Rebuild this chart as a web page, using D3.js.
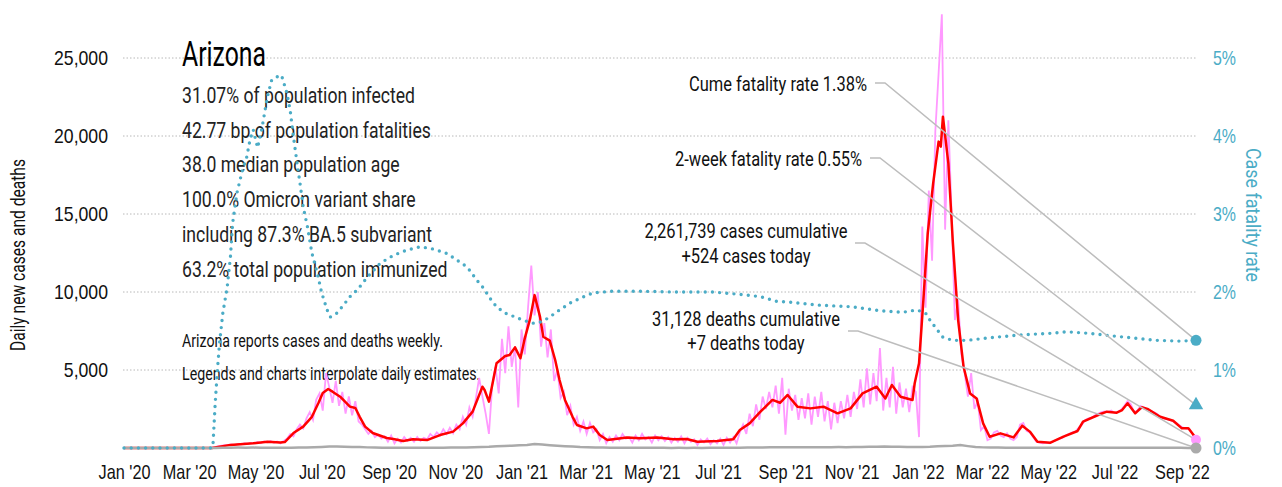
<!DOCTYPE html>
<html>
<head>
<meta charset="utf-8">
<script src="https://cdn.jsdelivr.net/npm/d3@7"></script>
<style>
  body { margin: 0; background: #fff; }
  svg { font-family: Roboto, "Liberation Sans", sans-serif; }
</style>
</head>
<body>
<svg id="chart" width="1282" height="487"></svg>
<script>
// ---- data ----
// day offsets are counted from 2020-01-01
const lastDay = 987;

// 7-day average of new cases (red)
const avgDay = [0, 81, 98, 119, 132, 144, 148, 156, 165, 173, 179, 183, 188, 192, 199, 208, 213, 217, 222, 229,
  242, 248, 257, 266, 279, 291, 303, 312, 321, 330, 332, 336, 343, 351, 355, 360, 365, 369, 374, 378,
  383, 386, 392, 397, 401, 406, 413, 417, 426, 432, 438, 445, 463, 475, 491, 506, 518, 528, 546, 561,
  567, 576, 586, 597, 604, 611, 620, 632, 644, 657, 669, 680, 693, 701, 707, 715, 726, 728, 732, 736,
  740, 745, 750, 752, 754, 759, 763, 768, 773, 779, 785, 791, 797, 807, 819, 827, 834, 841, 853, 865,
  878, 883, 899, 905, 914, 919, 924, 931, 937, 943, 954, 966, 974, 980, 987];
const avgCases = [0, 0, 200, 300, 400, 350, 380, 960, 1370, 2000, 2880, 3525, 3780, 3610, 3290, 2650, 2560, 2000, 1370, 960,
  640, 580, 450, 560, 510, 830, 1050, 1580, 2330, 3930, 3720, 2970, 5430, 5900, 5960, 6450, 5750, 7030, 8310, 9800,
  8420, 7130, 6880, 5640, 4360, 3080, 2000, 1475, 1260, 1370, 833, 510, 680, 620, 680, 560, 580, 400, 450, 560,
  1150, 1580, 2330, 3080, 2900, 3400, 2650, 2540, 2650, 2220, 2540, 3500, 3930, 3180, 4040, 3290, 3080, 4150, 5430, 9490,
  13760, 16970, 19640, 19320, 21240, 18250, 13330, 8200, 5210, 3500, 3180, 1580, 725, 940, 680, 1430, 1050, 400, 340, 725,
  1090, 1690, 2180, 2330, 2265, 2435, 2865, 2220, 2610, 2480, 2000, 1750, 1260, 1260, 620];

// daily new cases (pink), one value every 3 days from day 78
const rawStart = 78, rawStep = 3;
const rawCases = [
  0, 30, 60, 120, 150, 180, 200, 230, 190, 260, 240, 310, 260, 330, 300, 380, 320, 420, 360, 450,
  330, 420, 300, 450, 600, 900, 750, 1200, 1500, 1250, 1900, 2300, 1800, 3100, 3500, 2400, 4800, 3900, 2900, 4300,
  2700, 3600, 2200, 3300, 2100, 3000, 1700, 1500, 1200, 900, 1100, 700, 850, 600, 750, 400, 800, 300, 600, 350,
  700, 450, 650, 400, 700, 450, 650, 550, 900, 700, 1000, 800, 1200, 900, 1300, 950, 1500, 1200, 2000, 1500,
  2600, 2000, 3200, 4500, 3300, 2200, 900, 4000, 5200, 3500, 7000, 4800, 7800, 5200, 6500, 2600, 7600, 6000, 9000, 11700,
  8500, 10000, 6500, 8000, 5800, 7600, 4300, 5000, 3200, 3600, 2100, 2700, 1500, 2000, 1100, 1700, 900, 1600, 1000, 1200,
  500, 900, 300, 700, 400, 800, 500, 900, 600, 700, 350, 800, 500, 900, 550, 700, 350, 800, 500, 750,
  450, 700, 350, 650, 400, 750, 300, 650, 400, 550, 200, 550, 350, 600, 250, 500, 300, 600, 200, 650,
  350, 700, 300, 1000, 1500, 900, 2200, 1400, 2800, 1800, 3300, 2500, 3600, 2600, 4000, 2200, 4500, 850, 3800, 2400,
  3400, 1800, 3200, 1900, 3500, 1500, 3300, 2000, 3600, 1700, 3000, 1200, 2900, 1600, 3000, 1900, 3400, 2000, 3600, 2500,
  4400, 2600, 5100, 2800, 4800, 3000, 6400, 2400, 4500, 2600, 5200, 2200, 4200, 2600, 3800, 2300, 3900, 3600, 700, 14200,
  9000, 16500, 12000, 20300, 24000, 27800, 14000, 21000, 15000, 8200, 9500, 6000, 4800, 3300, 4800, 2500, 3000, 1150, 1400, 500,
  600, 1000, 1100, 800, 700, 950, 600, 500, 700, 1500, 1600, 1100, 1000, 700, 400, 350, 300, 350, 300, 400,
  500, 600, 650, 800, 900, 1000, 1050, 1300, 1500, 1800, 1900, 1950, 2100, 2200, 2300, 2350, 2300, 2400, 2250, 2300,
  2450, 2700, 3000, 2800, 2300, 2400, 2700, 2600, 2500, 2400, 2300, 2200, 2000, 1900, 1850, 1800, 1700, 1600, 1450, 1300,
  1250, 1200, 900, 524];

// daily deaths (gray), one value every 7 days from day 0
const deathStep = 7;
const deaths = [0, 0, 0, 0, 0, 0, 0, 0, 0, 0, 0, 0, 5, 15, 20, 25, 20, 25, 20, 20,
  15, 20, 20, 30, 40, 50, 70, 90, 100, 80, 70, 60, 40, 30, 20, 15, 10, 15, 10, 15,
  10, 20, 20, 30, 30, 40, 50, 70, 80, 110, 130, 150, 170, 200, 250, 220, 180, 150, 120, 90,
  60, 45, 40, 30, 20, 20, 15, 15, 10, 12, 10, 10, 8, 10, 8, 10, 8, 10, 10, 12,
  15, 20, 25, 30, 35, 45, 50, 55, 50, 55, 45, 50, 45, 55, 60, 55, 65, 70, 80, 85,
  90, 75, 80, 70, 60, 70, 80, 110, 130, 150, 190, 120, 60, 40, 30, 25, 20, 15, 12, 10,
  10, 12, 10, 10, 12, 10, 10, 12, 10, 10, 12, 10, 10, 12, 10, 10, 12, 10, 10, 10, 8, 7];

// case fatality rate, % (teal, right axis)
const cfrDay = [0, 81, 82, 84, 86, 88, 91, 95, 98, 100, 104, 109, 113, 116, 119, 123, 127, 132, 136, 141,
  145, 150, 153, 156, 159, 162, 165, 169, 173, 178, 182, 187, 190, 196, 202, 208, 215, 224, 236, 248,
  261, 273, 285, 298, 316, 325, 331, 337, 343, 351, 360, 367, 377, 385, 392, 401, 411, 420, 432, 450,
  475, 506, 542, 567, 586, 601, 613, 641, 671, 696, 717, 730, 738, 742, 749, 754, 763, 776, 795, 825,
  853, 868, 889, 908, 929, 951, 972, 987];
const cfrPct = [0, 0, 0.06, 0.58, 1.0, 1.35, 1.73, 2.06, 2.45, 2.88, 3.27, 3.56, 3.73, 3.95, 4.08, 3.85, 4.1, 4.5, 4.72, 4.76,
  4.78, 4.55, 4.33, 3.99, 3.69, 3.4, 3.09, 2.83, 2.5, 2.24, 1.99, 1.77, 1.68, 1.73, 1.83, 1.94, 2.03, 2.19, 2.37, 2.47,
  2.54, 2.58, 2.55, 2.49, 2.32, 2.15, 2.05, 1.92, 1.81, 1.73, 1.68, 1.64, 1.6, 1.62, 1.68, 1.77, 1.86, 1.92, 1.99, 2.01,
  2.01, 2.0, 2.0, 1.97, 1.94, 1.88, 1.87, 1.83, 1.81, 1.76, 1.74, 1.77, 1.73, 1.64, 1.51, 1.42, 1.38, 1.38, 1.41, 1.45,
  1.47, 1.49, 1.47, 1.44, 1.41, 1.38, 1.37, 1.38];

const caseTicks = [5000, 10000, 15000, 20000, 25000];
const cfrTicks = [0, 1, 2, 3, 4, 5];

const title = "Arizona";
const facts = ["31.07% of population infected", "42.77 bp of population fatalities", "38.0 median population age",
  "100.0% Omicron variant share", "including 87.3% BA.5 subvariant", "63.2% total population immunized"];
const notes = ["Arizona reports cases and deaths weekly.", "Legends and charts interpolate daily estimates."];

const cumeCfr = 1.38, twoWeekCfr = 0.55, casesToday = 524, deathsToday = 7;
const casesCum = 2261739, deathsCum = 31128;

// ---- drawing ----
const start = new Date(2020, 0, 1);
const day = n => d3.timeDay.offset(start, n);
const teal = "#4bacc6", pink = "#ff99ff", grey = "#aaaaaa";

// the reference uses a condensed face; squeeze the installed one to the same width
function squeeze(sel, k) {
  sel.each(function () {
    const w = this.getComputedTextLength();
    this.setAttribute("textLength", (w * k).toFixed(1));
    this.setAttribute("lengthAdjust", "spacingAndGlyphs");
  });
}
const ratio = (node, target) => target / node.getComputedTextLength();

const svg = d3.select("#chart");
const x = d3.scaleTime().domain([start, day(lastDay)]).range([124, 1196]);
const y = d3.scaleLinear().domain([0, 25000]).range([448, 58]);
const yR = d3.scaleLinear().domain([0, 5]).range([448, 58]);

// grid
svg.append("g").selectAll("line").data(caseTicks).join("line")
  .attr("x1", 123).attr("x2", 1197)
  .attr("y1", d => y(d)).attr("y2", d => y(d))
  .attr("stroke", "#b8b8b8").attr("stroke-width", 1).attr("stroke-dasharray", "1.5 2");

// axes
const fmt = d3.format(",");
const gl = svg.append("g").attr("transform", "translate(108,0)")
  .call(d3.axisLeft(y).tickValues(caseTicks).tickFormat(fmt).tickSize(0).tickPadding(0));
const gr = svg.append("g").attr("transform", "translate(1213,0)")
  .call(d3.axisRight(yR).tickValues(cfrTicks).tickFormat(d => d + "%").tickSize(0).tickPadding(0));
const gb = svg.append("g").attr("transform", "translate(0,448)")
  .call(d3.axisBottom(x).ticks(d3.timeMonth.every(2)).tickFormat(d3.timeFormat("%b '%y")).tickSize(0).tickPadding(16));
[gl, gr, gb].forEach(g => {
  g.select(".domain").remove();
  g.selectAll("text").style("font-family", null).attr("font-size", 21).attr("fill", "#111");
});
gr.selectAll("text").attr("fill", teal);
const lt = gl.selectAll("text").nodes(), bt = gb.selectAll("text").nodes(), rt = gr.selectAll("text").nodes();
squeeze(gl.selectAll("text"), ratio(lt[lt.length - 1], 54));   // "25,000"
squeeze(gb.selectAll("text"), ratio(bt[0], 52));               // "Jan '20"
squeeze(gr.selectAll("text"), ratio(rt[rt.length - 1], 23));   // "5%"

const ylab = svg.append("text").attr("transform", "translate(25,255) rotate(-90)")
  .attr("text-anchor", "middle").attr("font-size", 21).attr("fill", "#111")
  .text("Daily new cases and deaths");
const rlab = svg.append("text").attr("transform", "translate(1246,215) rotate(90)")
  .attr("text-anchor", "middle").attr("font-size", 21).attr("fill", teal)
  .text("Case fatality rate");
squeeze(ylab, ratio(ylab.node(), 192));
squeeze(rlab, ratio(rlab.node(), 134));

// text block
const tt = svg.append("text").attr("x", 182).attr("y", 66).attr("font-size", 35).attr("fill", "#000").text(title);
squeeze(tt, ratio(tt.node(), 84));
const ft = svg.append("g").selectAll("text").data(facts).join("text")
  .attr("x", 182).attr("y", (d, i) => 102.7 + i * 34.8)
  .attr("font-size", 22.5).attr("fill", "#222").text(d => d);
squeeze(ft, ratio(ft.node(), 233));
const nt = svg.append("g").selectAll("text").data(notes).join("text")
  .attr("x", 182).attr("y", (d, i) => 347 + i * 33)
  .attr("font-size", 18).attr("fill", "#111").text(d => d);
squeeze(nt, ratio(nt.node(), 261));

// series
const line = (xs, ys, sc) => d3.line().x((d, i) => x(day(xs(i)))).y((d, i) => sc(ys[i]));

svg.append("path").datum(rawCases)
  .attr("d", line(i => rawStart + i * rawStep, rawCases, y))
  .attr("fill", "none").attr("stroke", pink).attr("stroke-width", 1.8);
svg.append("path").datum(avgCases)
  .attr("d", line(i => avgDay[i], avgCases, y))
  .attr("fill", "none").attr("stroke", "#ff0000").attr("stroke-width", 2.5).attr("stroke-linejoin", "round");
svg.append("path").datum(deaths)
  .attr("d", line(i => i * deathStep, deaths, y))
  .attr("fill", "none").attr("stroke", grey).attr("stroke-width", 2.5);
svg.append("path").datum(cfrPct)
  .attr("d", line(i => cfrDay[i], cfrPct, yR))
  .attr("fill", "none").attr("stroke", teal).attr("stroke-width", 3.4)
  .attr("stroke-linecap", "round").attr("stroke-dasharray", "0 7.2");

// callouts
const xe = x(day(lastDay));
const callouts = [
  { lines: ["Cume fatality rate " + cumeCfr + "%"], tx: 867, anchor: "end", ty: [90.7], ly: 83, lx: 875, ex: xe, ey: yR(cumeCfr) },
  { lines: ["2-week fatality rate " + twoWeekCfr + "%"], tx: 862, anchor: "end", ty: [166], ly: 158, lx: 870, ex: xe, ey: yR(twoWeekCfr) },
  { lines: [fmt(casesCum) + " cases cumulative", "+" + fmt(casesToday) + " cases today"], tx: 746, anchor: "middle", ty: [238.3, 263.3], ly: 243, lx: 855, ex: xe, ey: y(casesToday) },
  { lines: [fmt(deathsCum) + " deaths cumulative", "+" + fmt(deathsToday) + " deaths today"], tx: 746, anchor: "middle", ty: [325.7, 350], ly: 331, lx: 848, ex: xe, ey: y(0) }
];
const ct = svg.append("g");
callouts.forEach(c => {
  c.lines.forEach((t, i) => ct.append("text").attr("x", c.tx).attr("y", c.ty[i])
    .attr("text-anchor", c.anchor).attr("font-size", 21).attr("fill", "#111").text(t));
  svg.append("path").attr("d", `M${c.lx},${c.ly}H${c.lx + 10}L${c.ex},${c.ey}`)
    .attr("fill", "none").attr("stroke", "#bdbdbd").attr("stroke-width", 1.5);
});
squeeze(ct.selectAll("text"), ratio(ct.select("text").node(), 178));

// end markers
svg.append("circle").attr("cx", xe).attr("cy", yR(cumeCfr)).attr("r", 5.5).attr("fill", teal);
svg.append("path").attr("transform", `translate(${xe},${yR(twoWeekCfr)})`)
  .attr("d", d3.symbol(d3.symbolTriangle, 90)()).attr("fill", teal);
svg.append("circle").attr("cx", xe).attr("cy", y(casesToday)).attr("r", 5).attr("fill", pink);
svg.append("circle").attr("cx", xe).attr("cy", y(0)).attr("r", 5.5).attr("fill", grey);
</script>
</body>
</html>
